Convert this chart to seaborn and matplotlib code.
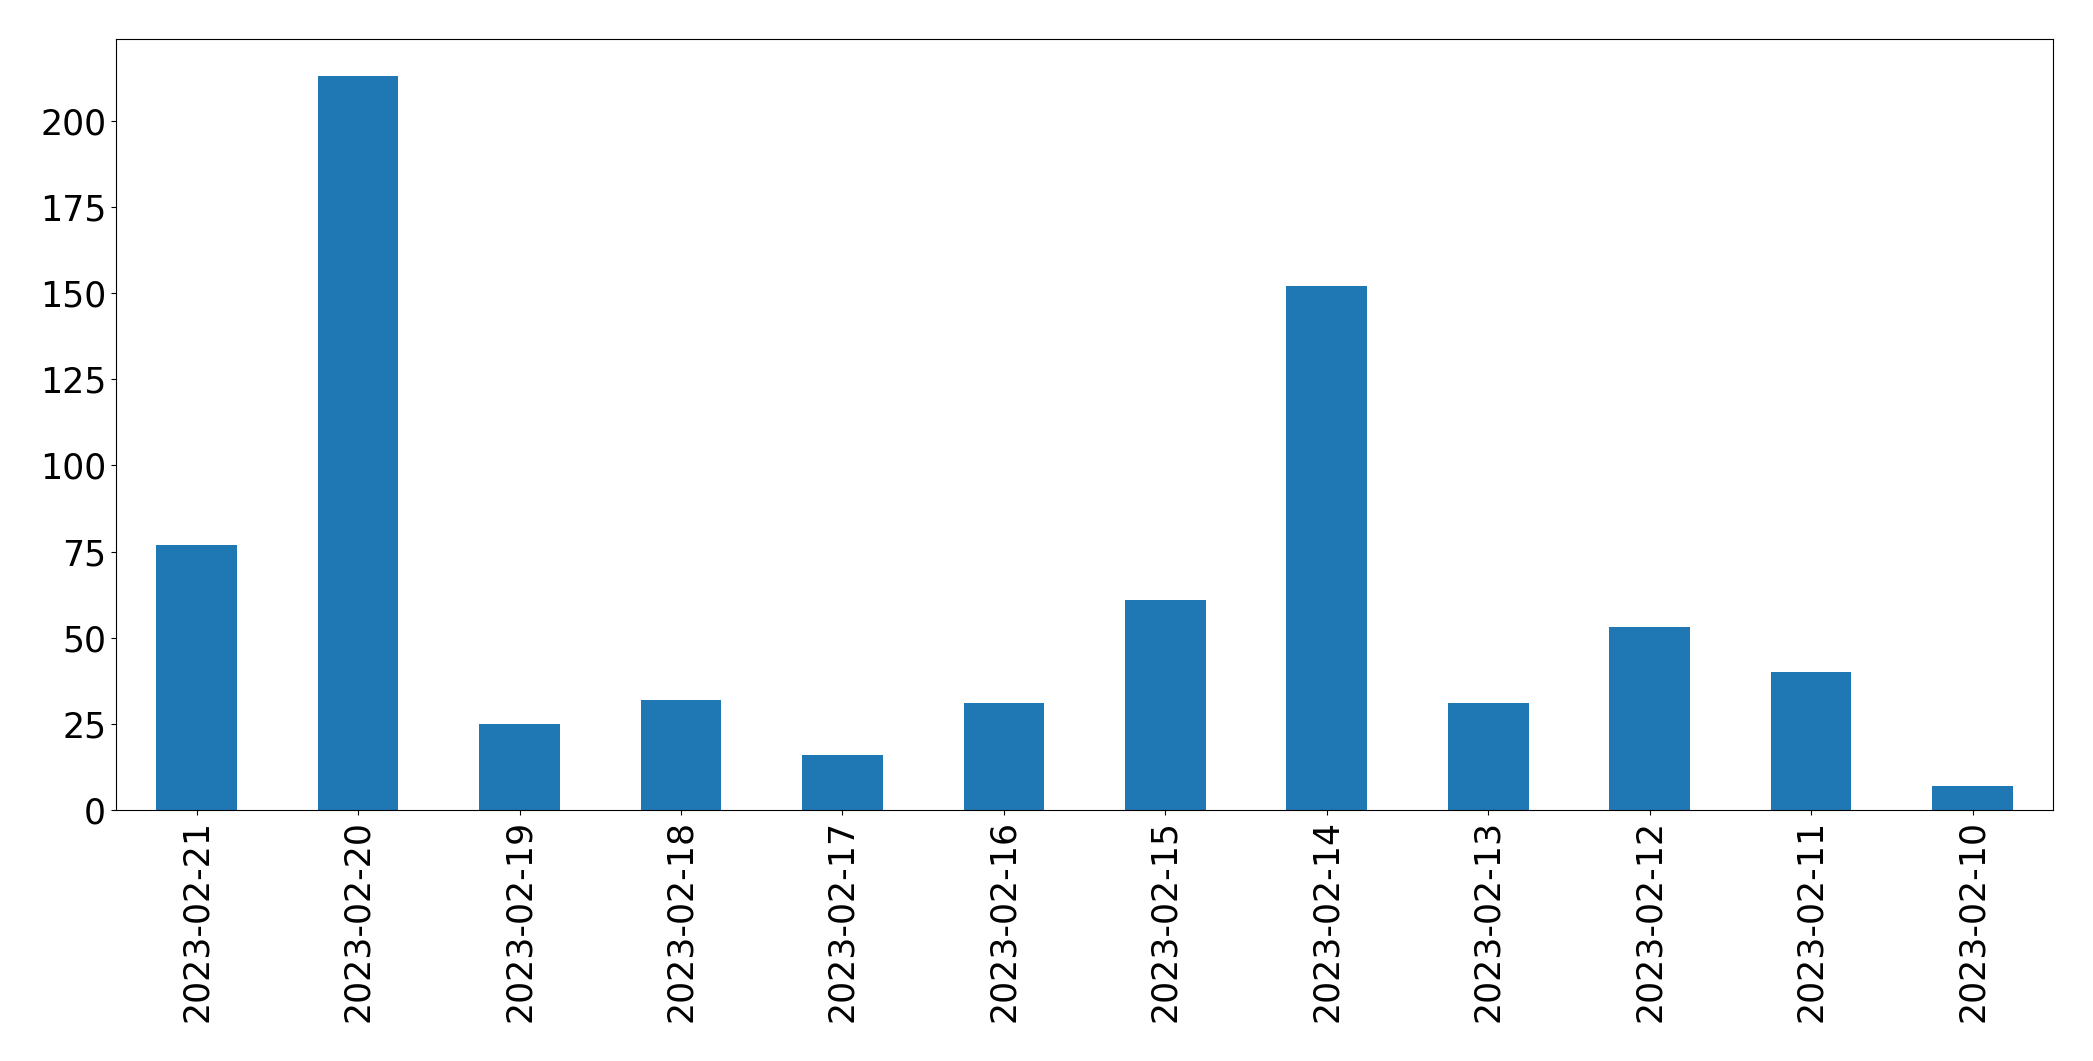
import pandas as pd
import seaborn as sns
import matplotlib
matplotlib.use("Agg")
import matplotlib.pyplot as plt

dates = ["2023-02-21", "2023-02-20", "2023-02-19", "2023-02-18", "2023-02-17", "2023-02-16",
         "2023-02-15", "2023-02-14", "2023-02-13", "2023-02-12", "2023-02-11", "2023-02-10"]
counts = [77, 213, 25, 32, 16, 31, 61, 152, 31, 53, 40, 7]

df = pd.DataFrame({"date": dates, "count": counts})

fig, ax = plt.subplots(figsize=(20.93, 10.61), dpi=100)
fig.subplots_adjust(left=0.0554, right=0.981, top=0.963, bottom=0.2366)

sns.barplot(data=df, x="date", y="count", order=dates, color="#1f77b4",
            saturation=1, width=0.5, ax=ax)

ax.set_xlim(-0.5, len(dates) - 0.5)
ax.set_xlabel("")
ax.set_ylabel("")
ax.tick_params(axis="both", labelsize=25)
ax.tick_params(axis="x", labelrotation=90)

plt.savefig("out.png", dpi=100)
